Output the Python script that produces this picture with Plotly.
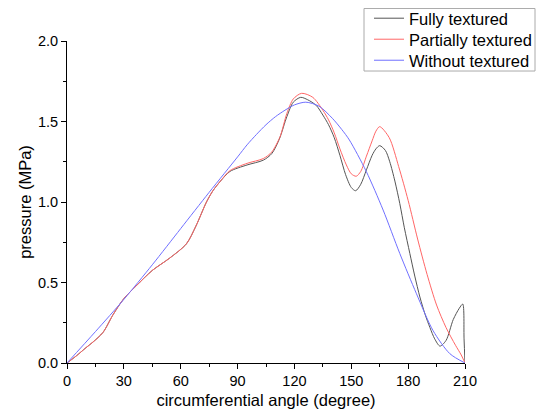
import plotly.graph_objects as go

# Fully textured (black)
full_x = [0, 5, 10, 13.7, 19, 24.3, 30, 36.6, 45, 54, 63, 68, 73.6, 77, 81, 86, 95, 103.6, 108,
          112, 116, 119.4, 123.3, 127, 131.5, 135, 138, 141, 144, 147, 150, 152.3, 155, 158, 161,
          163, 165, 168, 170.3, 173, 175.6, 178, 180.9, 183.5, 186.2, 189, 191.5, 194, 196.8, 200,
          203.8, 207, 208.8, 209.5, 210]
full_y = [0, 0.045, 0.095, 0.13, 0.19, 0.30, 0.40, 0.48, 0.575, 0.65, 0.74, 0.85, 1.0, 1.07, 1.13,
          1.19, 1.23, 1.26, 1.30, 1.39, 1.53, 1.62, 1.65, 1.635, 1.60, 1.54, 1.48, 1.40, 1.29, 1.17,
          1.09, 1.07, 1.11, 1.20, 1.29, 1.33, 1.35, 1.32, 1.25, 1.13, 0.99, 0.84, 0.68, 0.54, 0.41,
          0.30, 0.22, 0.15, 0.105, 0.14, 0.27, 0.34, 0.366, 0.15, 0]

# Partially textured (red)
part_x = [0, 5, 10, 13.7, 19, 24.3, 30, 36.6, 45, 54, 63, 68, 73.6, 77, 81, 86, 95, 103.6, 108,
          112.4, 116, 119.4, 123.8, 129.7, 135, 138, 141, 144, 147.4, 150, 152.6, 155, 158, 161,
          163, 165, 170, 175, 180, 185, 190, 195, 200, 205, 208, 210]
part_y = [0, 0.045, 0.095, 0.13, 0.19, 0.30, 0.40, 0.48, 0.575, 0.65, 0.74, 0.85, 1.0, 1.07, 1.13,
          1.195, 1.24, 1.27, 1.31, 1.405, 1.55, 1.64, 1.675, 1.65, 1.57, 1.51, 1.43, 1.33, 1.23,
          1.175, 1.16, 1.19, 1.285, 1.38, 1.44, 1.468, 1.40, 1.22, 1.01, 0.77, 0.55, 0.36, 0.22,
          0.11, 0.05, 0]

# Without textured (blue)
none_x = [0, 15, 30, 45, 60, 75, 90, 95, 100, 105, 110, 115, 120, 126, 133, 140, 145, 149,
          157.9, 166.8, 175.6, 184.4, 193.2, 202, 210]
none_y = [0, 0.195, 0.395, 0.61, 0.835, 1.06, 1.28, 1.355, 1.42, 1.48, 1.53, 1.57, 1.603, 1.62,
          1.595, 1.52, 1.45, 1.385, 1.19, 0.95, 0.68, 0.43, 0.20, 0.058, 0]

names = ["Fully textured", "Partially textured", "Without textured"]
colors = ["#555555", "#ff6666", "#7070ff"]

x_ticks = [0, 30, 60, 90, 120, 150, 180, 210]
y_ticks = [0.0, 0.5, 1.0, 1.5, 2.0]

font = "Arial, Liberation Sans, sans-serif"
OFF = 8  # page body margin
W, H = 547 - OFF, 417 - OFF
L, T = 67 - OFF, 41 - OFF
R = W - (465 - OFF)
B = H - (362.7 - OFF)
pw = W - L - R
ph = H - T - B


def px_x(sx):
    return (sx - OFF - L) / pw


def px_y(sy):
    return (H - B - (sy - OFF)) / ph


legend_ids = ["legend", "legend2", "legend3"]
legend_tops = [1, 22, 43]

fig = go.Figure()
for xs, ys, nm, c, lg in zip([full_x, part_x, none_x], [full_y, part_y, none_y], names, colors,
                             legend_ids):
    fig.add_trace(go.Scatter(x=xs, y=ys, mode="lines", name=nm, legend=lg,
                             line=dict(color=c, width=1, shape="spline", smoothing=0.8)))

# legend frame (screen box 364..535 x 7..71)
fig.add_shape(type="rect", xref="paper", yref="paper",
              x0=px_x(364), x1=px_x(535), y0=px_y(71), y1=px_y(8.5),
              line=dict(color="#aaaaaa", width=1), fillcolor="rgba(0,0,0,0)")

legend_common = dict(xanchor="left", yanchor="top", borderwidth=0, bgcolor="rgba(0,0,0,0)",
                     font=dict(size=16.5, family=font), itemwidth=30)
legends = {}
for lg, top in zip(legend_ids, legend_tops):
    legends[lg] = dict(x=px_x(369), y=px_y(top), **legend_common)

fig.update_layout(
    width=W, height=H,
    margin=dict(l=L, r=R, t=T, b=B, autoexpand=False),
    plot_bgcolor="white", paper_bgcolor="white",
    font=dict(family=font, size=14.5, color="black"),
    showlegend=True,
    **legends,
    xaxis=dict(range=[0, 210], tickvals=x_ticks, ticktext=[str(v) for v in x_ticks],
               showgrid=False, zeroline=False, showline=True, linecolor="black", linewidth=1,
               ticks="outside", ticklen=5, tickcolor="black", automargin=False,
               minor=dict(ticks="outside", ticklen=3, dtick=15, tickcolor="black", showgrid=False),
               title=dict(text="circumferential angle (degree)", font=dict(size=16.5), standoff=6),
               tickfont=dict(size=14.5)),
    yaxis=dict(range=[0, 2.0], tickvals=y_ticks, ticktext=[f"{v:.1f}" for v in y_ticks],
               showgrid=False, zeroline=False, showline=True, linecolor="black", linewidth=1,
               ticks="outside", ticklen=5, tickcolor="black", automargin=False,
               minor=dict(ticks="outside", ticklen=3, dtick=0.25, tickcolor="black", showgrid=False),
               title=dict(text="pressure (MPa)", font=dict(size=16.5), standoff=2),
               tickfont=dict(size=14.5)),
)

fig.write_html("out.html")
